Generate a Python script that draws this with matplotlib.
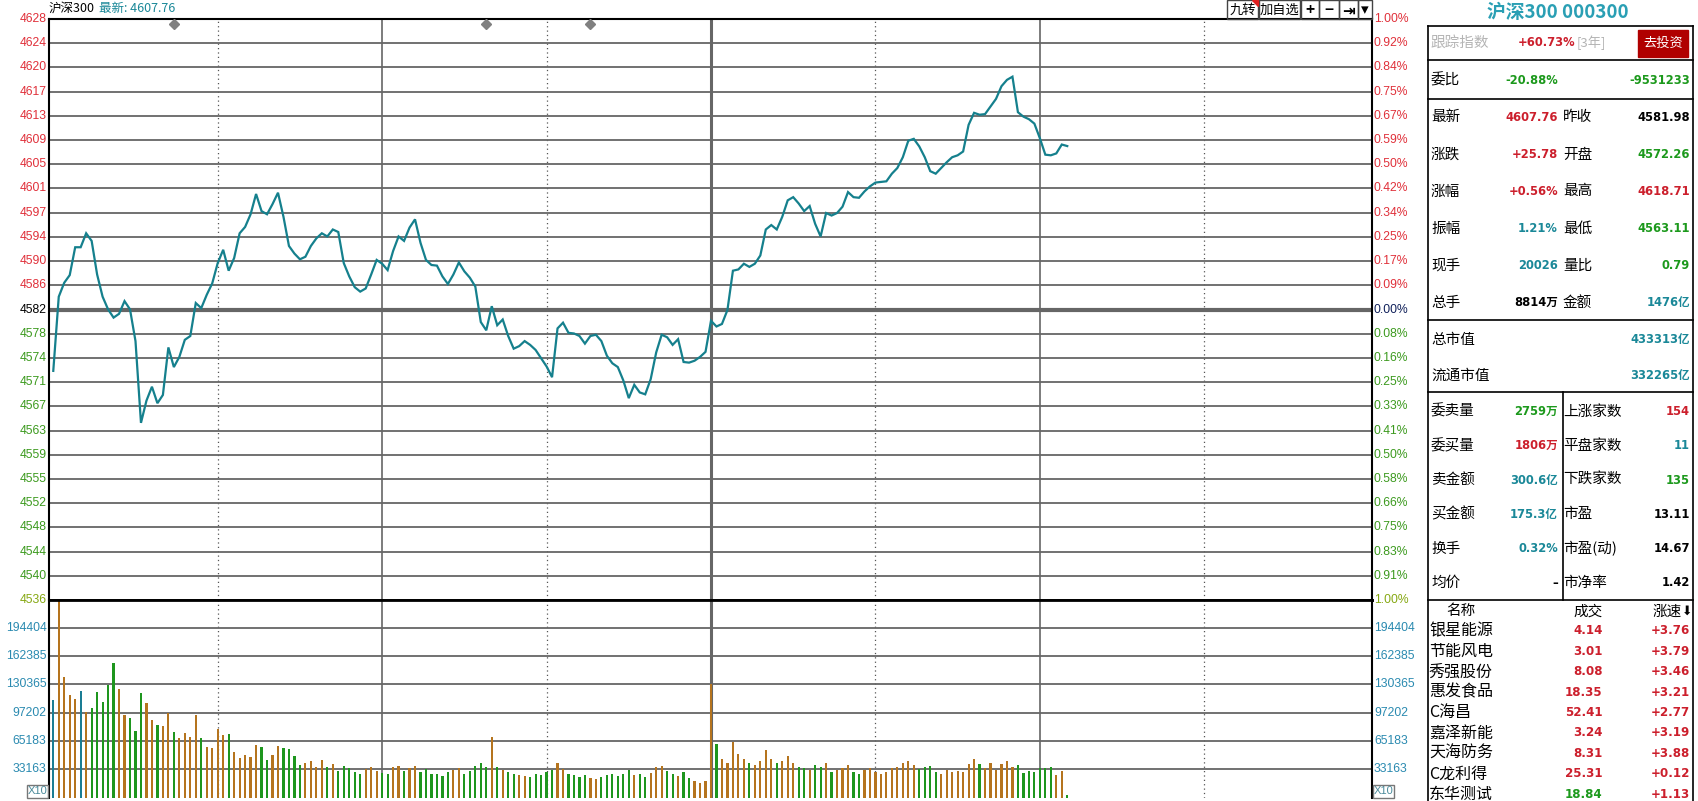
import numpy as np
import matplotlib
matplotlib.use("Agg")
import matplotlib.pyplot as plt
from matplotlib.transforms import blended_transform_factory
from matplotlib.patches import Rectangle, Polygon

# ---------------- data ----------------
prev_close = 4581.98

price = [
    4572.3, 4584.0, 4586.2, 4587.4, 4591.8, 4591.8, 4594.0, 4592.8, 4587.5, 4584.0,
    4582.0, 4580.7, 4581.3, 4583.3, 4582.0, 4577.0, 4564.1, 4567.6, 4569.8, 4567.2,
    4568.5, 4576.0, 4572.9, 4574.5, 4577.2, 4577.8, 4583.0, 4582.2, 4584.3, 4586.1,
    4589.3, 4591.4, 4588.1, 4590.1, 4594.0, 4595.0, 4597.0, 4600.2, 4597.5, 4597.0,
    4598.6, 4600.4, 4596.6, 4592.0, 4590.8, 4589.9, 4590.3, 4592.0, 4593.2, 4594.0,
    4593.5, 4594.6, 4594.2, 4589.3, 4587.2, 4585.5, 4584.8, 4585.3, 4587.5, 4589.8,
    4589.2, 4588.2, 4591.2, 4593.5, 4592.8, 4594.9, 4596.2, 4592.5, 4589.8, 4589.0,
    4588.9, 4587.2, 4586.0, 4587.5, 4589.4, 4588.0, 4587.0, 4585.6, 4580.0, 4578.7,
    4582.5, 4579.5, 4580.4, 4577.8, 4575.8, 4576.2, 4577.0, 4576.4, 4575.6, 4574.3,
    4573.0, 4571.3, 4579.0, 4579.9, 4578.3, 4578.2, 4577.8, 4576.6, 4577.8, 4578.0,
    4577.0, 4574.7, 4573.5, 4572.9, 4570.8, 4568.0, 4570.1, 4568.9, 4568.6, 4571.0,
    4575.2, 4578.0, 4577.6, 4576.4, 4577.3, 4573.7, 4573.6, 4573.9, 4574.5, 4575.3,
    4580.2, 4579.3, 4579.7, 4581.9, 4588.1, 4588.3, 4589.2, 4588.7, 4589.2, 4590.5,
    4594.6, 4595.3, 4594.6, 4596.6, 4599.2, 4599.7, 4598.7, 4597.5, 4598.3, 4595.5,
    4593.5, 4597.2, 4596.8, 4597.2, 4598.2, 4600.5, 4599.7, 4599.6, 4600.6, 4601.4,
    4602.0, 4602.1, 4602.2, 4603.4, 4604.3, 4606.0, 4608.6, 4608.9, 4607.7, 4606.0,
    4603.8, 4603.4, 4604.3, 4605.2, 4606.0, 4606.3, 4606.9, 4611.1, 4613.0, 4612.7,
    4612.8, 4614.0, 4615.2, 4617.2, 4618.2, 4618.7, 4613.1, 4612.4, 4612.0, 4611.3,
    4609.0, 4606.4, 4606.3, 4606.6, 4608.0, 4607.76,
]

volume = [
    112000, 230000, 138700, 117800, 113200, 122400, 98300, 102900, 121200, 109800,
    129200, 154400, 124600, 94900, 91500, 76600, 120100, 108600, 89200, 83500,
    82300, 96800, 75500, 68600, 74300, 69700, 94900, 68600, 58300, 57200,
    78900, 72000, 73200, 52600, 45700, 49200, 46900, 60600, 58300, 43500,
    49200, 59500, 57200, 56000, 48000, 37700, 40000, 42000, 36000, 44000,
    35000, 39000, 31000, 37000, 34000, 30000, 28000, 33000, 36000, 31000,
    29000, 27000, 35000, 37000, 31000, 34000, 37000, 30000, 33000, 28000,
    27000, 25000, 30000, 32000, 34000, 28000, 31000, 37000, 40000, 36000,
    70000, 36000, 32000, 30000, 28000, 26000, 25000, 24000, 28000, 26000,
    30000, 32000, 40000, 33000, 28000, 26000, 24000, 26000, 23000, 22000,
    24000, 26000, 28000, 25000, 27000, 32000, 26000, 28000, 24000, 29000,
    35000, 37000, 31000, 27000, 25000, 30000, 23000, 19000, 17000, 20000,
    130000, 62000, 45000, 40000, 64000, 50000, 45000, 40000, 38000, 42000,
    55000, 45000, 40000, 42000, 48000, 40000, 36000, 34000, 32000, 38000,
    35000, 40000, 30000, 32000, 34000, 38000, 30000, 28000, 32000, 34000,
    30000, 28000, 30000, 34000, 36000, 40000, 42000, 38000, 33000, 35000,
    37000, 30000, 28000, 32000, 30000, 31000, 29700, 38900, 44600, 38900,
    34300, 40000, 32000, 38900, 42300, 35400, 37700, 28600, 30900, 29700,
    34300, 34300, 35400, 26300, 30900, 3400,
]

price_tick_labels = ['4628', '4624', '4620', '4617', '4613', '4609', '4605', '4601',
                     '4597', '4594', '4590', '4586', '4582', '4578', '4574', '4571',
                     '4567', '4563', '4559', '4555', '4552', '4548', '4544', '4540', '4536']
pct_tick_labels = ['1.00%', '0.92%', '0.84%', '0.75%', '0.67%', '0.59%', '0.50%', '0.42%',
                   '0.34%', '0.25%', '0.17%', '0.09%', '0.00%', '0.08%', '0.16%', '0.25%',
                   '0.33%', '0.41%', '0.50%', '0.58%', '0.66%', '0.75%', '0.83%', '0.91%', '1.00%']
vol_ticks = [33163, 65183, 97202, 130365, 162385, 194404]
event_minutes = [22, 79, 98]

quote_rows = [
    ('最新', '4607.76', 'r', '昨收', '4581.98', 'k'),
    ('涨跌', '+25.78', 'r', '开盘', '4572.26', 'g'),
    ('涨幅', '+0.56%', 'r', '最高', '4618.71', 'r'),
    ('振幅', '1.21%', 't', '最低', '4563.11', 'g'),
    ('现手', '20026', 't', '量比', '0.79', 'g'),
    ('总手', '8814万', 'k', '金额', '1476亿', 't'),
]
cap_rows = [('总市值', '433313亿'), ('流通市值', '332265亿')]
book_rows = [
    ('委卖量', '2759万', 'g', '上涨家数', '154', 'r'),
    ('委买量', '1806万', 'r', '平盘家数', '11', 't'),
    ('卖金额', '300.6亿', 't', '下跌家数', '135', 'g'),
    ('买金额', '175.3亿', 't', '市盈', '13.11', 'k'),
    ('换手', '0.32%', 't', '市盈(动)', '14.67', 'k'),
    ('均价', '–', 'k', '市净率', '1.42', 'k'),
]
stock_names = ['银星能源', '节能风电', '秀强股份', '惠发食品', 'C海昌', '嘉泽新能', '天海防务', 'C龙利得', '东华测试']
stock_price = ['4.14', '3.01', '8.08', '18.35', '52.41', '3.24', '8.31', '25.31', '18.84']
stock_price_col = ['r', 'r', 'r', 'r', 'r', 'r', 'r', 'r', 'g']
stock_speed = ['+3.76', '+3.79', '+3.46', '+3.21', '+2.77', '+3.19', '+3.88', '+0.12', '+1.13']

# ---------------- style ----------------
W, H = 1699, 801
CJK = ['Noto Sans CJK SC', 'DejaVu Sans']
NUM = ['Liberation Sans', 'DejaVu Sans']
BNUM = ['DejaVu Sans', 'Noto Sans CJK SC']
C_RED, C_GREEN, C_TEAL, C_BLACK = '#cc1f2c', '#1c991c', '#1a8898', '#000000'
CMAP = {'r': C_RED, 'g': C_GREEN, 't': C_TEAL, 'k': C_BLACK}
AX_RED, AX_GREEN, AX_TEAL = '#e0303a', '#3c9a1e', '#2a8ab0'
LINE_C = '#15808d'
GRID = '#666666'
UP_C, DN_C, EQ_C = '#b5741e', '#1e961e', '#1a7d94'

fig = plt.figure(figsize=(W / 100, H / 100), dpi=100)
fig.patch.set_facecolor('white')

L, R = 49, 1372
ax = fig.add_axes([L / W, 1 - 600 / H, (R - L) / W, (600 - 19) / H])
av = fig.add_axes([L / W, 1 - 798 / H, (R - L) / W, (798 - 600) / H])

n = len(price)
idx = np.arange(n)
xlo, xhi = -0.78, 240.6
ylo, yhi = prev_close * 0.99, prev_close * 1.01
vtop = 226430

for a in (ax, av):
    a.set_xlim(xlo, xhi)
    a.set_xticks([])
    a.set_yticks([])
    for s in a.spines.values():
        s.set_color('black')
        s.set_linewidth(1.5)
    for m in (30, 90, 150, 210):
        a.axvline(m, color='#555555', lw=0.9, ls=(0, (1, 2.5)), zorder=1)
    for m in (60, 180):
        a.axvline(m, color=GRID, lw=1.2, zorder=1)
    a.axvline(120, color=GRID, lw=2.2, zorder=1)
av.spines['bottom'].set_visible(False)
av.spines['top'].set_linewidth(2)
ax.spines['bottom'].set_linewidth(2)

ax.set_ylim(ylo, yhi)
av.set_ylim(0, vtop)

ticks = np.linspace(yhi, ylo, len(price_tick_labels))
mid = len(ticks) // 2
for k, y in enumerate(ticks):
    if 0 < k < len(ticks) - 1:
        ax.axhline(y, color=GRID, lw=3.0 if k == mid else 1.3, zorder=1)
for v in vol_ticks:
    av.axhline(v, color=GRID, lw=1.3, zorder=1)

# price line
ax.plot(idx, price, color=LINE_C, lw=1.6, zorder=3, solid_joinstyle='miter')
ax.plot(event_minutes, [yhi - 0.8] * len(event_minutes), ls='none', marker='D',
        ms=5, color='#808080', zorder=4, clip_on=False)

# volume bars
cols = [EQ_C]
for i in range(1, n):
    if price[i] > price[i - 1]:
        cols.append(UP_C)
    elif price[i] < price[i - 1]:
        cols.append(DN_C)
    else:
        cols.append(EQ_C)
av.bar(idx, volume, width=0.4, color=cols, zorder=2)

# tick labels
tl = blended_transform_factory(ax.transAxes, ax.transData)
dxl = -2.5 / (R - L)
dxr = 2.0 / (R - L)
for k, (y, lab, pl) in enumerate(zip(ticks, price_tick_labels, pct_tick_labels)):
    if k < mid:
        c = AX_RED
    elif k == mid:
        c = '#000000'
    elif k == len(ticks) - 1:
        c = '#86a812'
    else:
        c = AX_GREEN
    ax.text(dxl, y, lab, transform=tl, ha='right', va='center', fontsize=8.7,
            family=NUM, color=c)
    ax.text(1 + dxr, y, pl, transform=tl, ha='left', va='center', fontsize=8.7,
            family=NUM, color=('#10205a' if k == mid else c))
tv = blended_transform_factory(av.transAxes, av.transData)
for v in vol_ticks:
    av.text(dxl, v, str(v), transform=tv, ha='right', va='center', fontsize=8.7,
            family=NUM, color=AX_TEAL)
    av.text(1 + dxr, v, str(v), transform=tv, ha='left', va='center', fontsize=8.7,
            family=NUM, color=AX_TEAL)

# ---------------- overlay (pixel coords) ----------------
ov = fig.add_axes([0, 0, 1, 1], zorder=10)
ov.set_xlim(0, W)
ov.set_ylim(H, 0)
ov.axis('off')
ov.patch.set_alpha(0)

# header
ov.text(L, 8.5, '沪深300', family=CJK, fontsize=9, va='center', ha='left', color='black')
ov.text(99, 8.5, '最新: 4607.76', family=CJK, fontsize=9, va='center', ha='left', color=C_TEAL)

# X10 boxes
for x0 in (27, 1373):
    ov.add_patch(Rectangle((x0, 785), 21, 13, fill=False, ec='#777777', lw=1))
    ov.text(x0 + 10.5, 791.5, 'X10', family=NUM, fontsize=8, ha='center', va='center', color='#4a8a9a')

# top buttons
btns = [(1227, 1258, '九转'), (1259, 1300, '加自选'), (1301, 1319, '+'), (1319, 1339, '−'),
        (1339, 1358, '⇥'), (1358, 1372, '▾')]
for x0, x1, t in btns:
    ov.add_patch(Rectangle((x0, 0), x1 - x0, 19, fill=False, ec='#444444', lw=1))
    fw = 'bold' if t in ('+', '−', '⇥') else 'normal'
    ov.text((x0 + x1) / 2, 10, t, family=CJK, fontsize=9.5 if len(t) > 1 else 11,
            fontweight=fw, ha='center', va='center', color='black')
ov.add_patch(Polygon([[1252, 0], [1258, 0], [1258, 6]], closed=True, color='#e02020'))

# right panel
PL, PR = 1428, 1693
ov.text(1558, 12.5, '沪深300 000300', family=CJK, fontsize=13.5, fontweight='bold',
        ha='center', va='center', color='#2a9fb4')
for y in (26, 60, 99, 320, 392, 600):
    ov.plot([PL, PR], [y, y], color='black', lw=1.2)
ov.plot([PL, PL], [26, H], color='black', lw=1.2)
ov.plot([PR, PR], [26, H], color='black', lw=1.2)
ov.plot([1562.7, 1562.7], [392, 600], color='black', lw=1.2)

LBL = dict(family=CJK, fontsize=10.5, va='center', ha='left', color='black')
VAL = dict(family=BNUM, fontsize=8.3, fontweight='bold', va='center', ha='right')
V1, L2, V2 = 1558, 1563, 1690

ov.text(1431, 43, '跟踪指数', **{**LBL, 'color': '#b4b4b4'})
ov.text(1575, 43, '+60.73%', **VAL, color=C_RED)
ov.text(1577, 43, '[3年]', family=CJK, fontsize=9.5, va='center', ha='left', color='#b4b4b4')
ov.add_patch(Rectangle((1638, 30), 50, 27, color='#b00000'))
ov.text(1663, 43.5, '去投资', family=CJK, fontsize=9.5, ha='center', va='center', color='white')

ov.text(1431, 80, '委比', **LBL)
ov.text(V1, 80, '-20.88%', **VAL, color=C_GREEN)
ov.text(V2, 80, '-9531233', **VAL, color=C_GREEN)

for k, (l1, v1, c1, l2, v2, c2) in enumerate(quote_rows):
    y = 117.5 + k * 37.0
    ov.text(1431, y, l1, **LBL)
    ov.text(V1, y, v1, **VAL, color=CMAP[c1])
    ov.text(L2, y, l2, **LBL)
    ov.text(V2, y, v2, **VAL, color=CMAP[c2])

for k, (l1, v1) in enumerate(cap_rows):
    y = 340 + k * 36
    ov.text(1431, y, l1, **LBL)
    ov.text(V2, y, v1, **VAL, color=C_TEAL)

for k, (l1, v1, c1, l2, v2, c2) in enumerate(book_rows):
    y = 411.5 + k * 34.3
    ov.text(1431, y, l1, **LBL)
    ov.text(V1, y, v1, **VAL, color=CMAP[c1])
    ov.text(L2, y, l2, **LBL)
    ov.text(V2, y, v2, **VAL, color=CMAP[c2])

ov.text(1461, 611.5, '名称', family=CJK, fontsize=10.5, ha='center', va='center')
ov.text(1602.7, 611.5, '成交', family=CJK, fontsize=10.5, ha='right', va='center')
ov.text(1681.5, 611.5, '涨速', family=CJK, fontsize=10.5, ha='right', va='center')
ov.text(1692, 611.5, '⬇', family=['DejaVu Sans'], fontsize=9, ha='right', va='center')

for k, (nm, p, pc, sp) in enumerate(zip(stock_names, stock_price, stock_price_col, stock_speed)):
    y = 631 + k * 20.4
    ov.text(1429, y, nm, family=CJK, fontsize=11.5, ha='left', va='center', color='black')
    ov.text(1602.7, y, p, **{**VAL, 'fontsize': 8.6}, color=CMAP[pc])
    ov.text(V2, y, sp, **{**VAL, 'fontsize': 8.6}, color=C_RED)

fig.savefig('out.png', dpi=100, facecolor='white')
